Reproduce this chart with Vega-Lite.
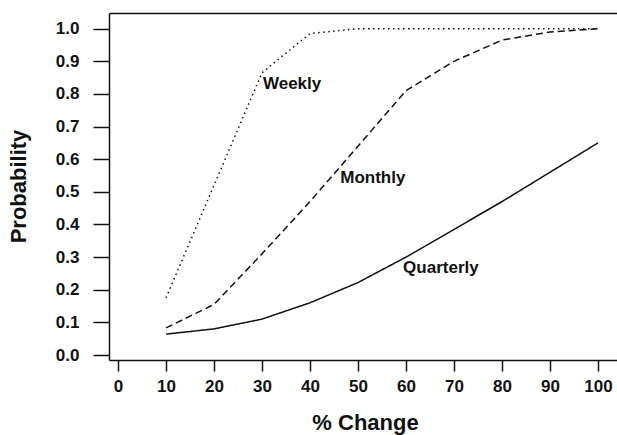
{
  "$schema": "https://vega.github.io/schema/vega-lite/v6.json",
  "autosize": {"type": "none"},
  "padding": {"left": 109, "top": 13, "right": 0, "bottom": 75},
  "width": 508,
  "height": 347,
  "background": "white",
  "config": {
    "view": {"stroke": null},
    "font": "Liberation Sans",
    "axis": {"domain": true, "domainColor": "#111", "domainWidth": 1.5, "grid": false, "tickColor": "#111", "tickWidth": 1.5, "labelColor": "#111", "titleColor": "#111", "labelFont": "Liberation Sans", "titleFont": "Liberation Sans", "labelFontWeight": "bold", "titleFontWeight": "bold"},
    "axisY": {"labelOverlap": false},
    "axisX": {"labelOverlap": false}
  },
  "datasets": {
    "curves": [
      {"change": 10, "p": 0.175, "series": "Weekly"},
      {"change": 20, "p": 0.52, "series": "Weekly"},
      {"change": 30, "p": 0.865, "series": "Weekly"},
      {"change": 40, "p": 0.985, "series": "Weekly"},
      {"change": 50, "p": 1.0, "series": "Weekly"},
      {"change": 60, "p": 1.0, "series": "Weekly"},
      {"change": 70, "p": 1.0, "series": "Weekly"},
      {"change": 80, "p": 1.0, "series": "Weekly"},
      {"change": 90, "p": 1.0, "series": "Weekly"},
      {"change": 100, "p": 1.0, "series": "Weekly"},
      {"change": 10, "p": 0.083, "series": "Monthly"},
      {"change": 20, "p": 0.155, "series": "Monthly"},
      {"change": 30, "p": 0.31, "series": "Monthly"},
      {"change": 40, "p": 0.47, "series": "Monthly"},
      {"change": 50, "p": 0.64, "series": "Monthly"},
      {"change": 60, "p": 0.81, "series": "Monthly"},
      {"change": 70, "p": 0.90, "series": "Monthly"},
      {"change": 80, "p": 0.965, "series": "Monthly"},
      {"change": 90, "p": 0.99, "series": "Monthly"},
      {"change": 100, "p": 1.0, "series": "Monthly"},
      {"change": 10, "p": 0.064, "series": "Quarterly"},
      {"change": 20, "p": 0.08, "series": "Quarterly"},
      {"change": 30, "p": 0.11, "series": "Quarterly"},
      {"change": 40, "p": 0.16, "series": "Quarterly"},
      {"change": 50, "p": 0.222, "series": "Quarterly"},
      {"change": 60, "p": 0.30, "series": "Quarterly"},
      {"change": 70, "p": 0.385, "series": "Quarterly"},
      {"change": 80, "p": 0.47, "series": "Quarterly"},
      {"change": 90, "p": 0.56, "series": "Quarterly"},
      {"change": 100, "p": 0.65, "series": "Quarterly"}
    ],
    "labels": [
      {"change": 30.2, "p": 0.831, "series": "Weekly"},
      {"change": 46.3, "p": 0.543, "series": "Monthly"},
      {"change": 59.4, "p": 0.267, "series": "Quarterly"}
    ]
  },
  "layer": [
    {
      "data": {"name": "curves"},
      "mark": {"type": "line", "color": "#111", "strokeWidth": 1.5, "clip": true},
      "encoding": {
        "x": {"field": "change", "type": "quantitative", "scale": {"domain": [-1.875, 103.958], "nice": false, "zero": false},
          "axis": {"orient": "bottom", "values": [0, 10, 20, 30, 40, 50, 60, 70, 80, 90, 100], "title": "% Change", "tickSize": 11, "labelPadding": 7, "labelFontSize": 17, "titleFontSize": 22, "titleX": 256, "titleY": 52, "titleBaseline": "top"}},
        "y": {"field": "p", "type": "quantitative", "scale": {"domain": [-0.0153, 1.048], "nice": false, "zero": false},
          "axis": {"values": [0, 0.1, 0.2, 0.3, 0.4, 0.5, 0.6, 0.7, 0.8, 0.9, 1.0], "format": ".1f", "title": "Probability", "tickSize": 16, "labelPadding": 14, "labelFontSize": 17, "titleFontSize": 22, "titleAngle": -90, "titleX": -91, "titleY": 173, "titleBaseline": "middle", "titleAlign": "center"}},
        "detail": {"field": "series"},
        "strokeDash": {"field": "series", "type": "nominal", "scale": {"domain": ["Weekly", "Monthly", "Quarterly"], "range": [[1.5, 3.5], [7, 4], [1, 0]]}, "legend": null}
      }
    },
    {
      "data": {"name": "labels"},
      "mark": {"type": "text", "align": "left", "baseline": "middle", "fontSize": 17, "fontWeight": "bold", "color": "#111", "font": "Liberation Sans"},
      "encoding": {
        "x": {"field": "change", "type": "quantitative", "axis": {"orient": "top", "domain": true, "ticks": false, "labels": false, "title": null}},
        "y": {"field": "p", "type": "quantitative",
          "axis": {"values": [0, 0.1, 0.2, 0.3, 0.4, 0.5, 0.6, 0.7, 0.8, 0.9, 1.0], "format": ".1f", "title": "Probability", "tickSize": 16, "labelPadding": 14, "labelFontSize": 17, "titleFontSize": 22, "titleAngle": -90, "titleX": -91, "titleY": 173, "titleBaseline": "middle", "titleAlign": "center"}},
        "text": {"field": "series"}
      }
    }
  ]
}
